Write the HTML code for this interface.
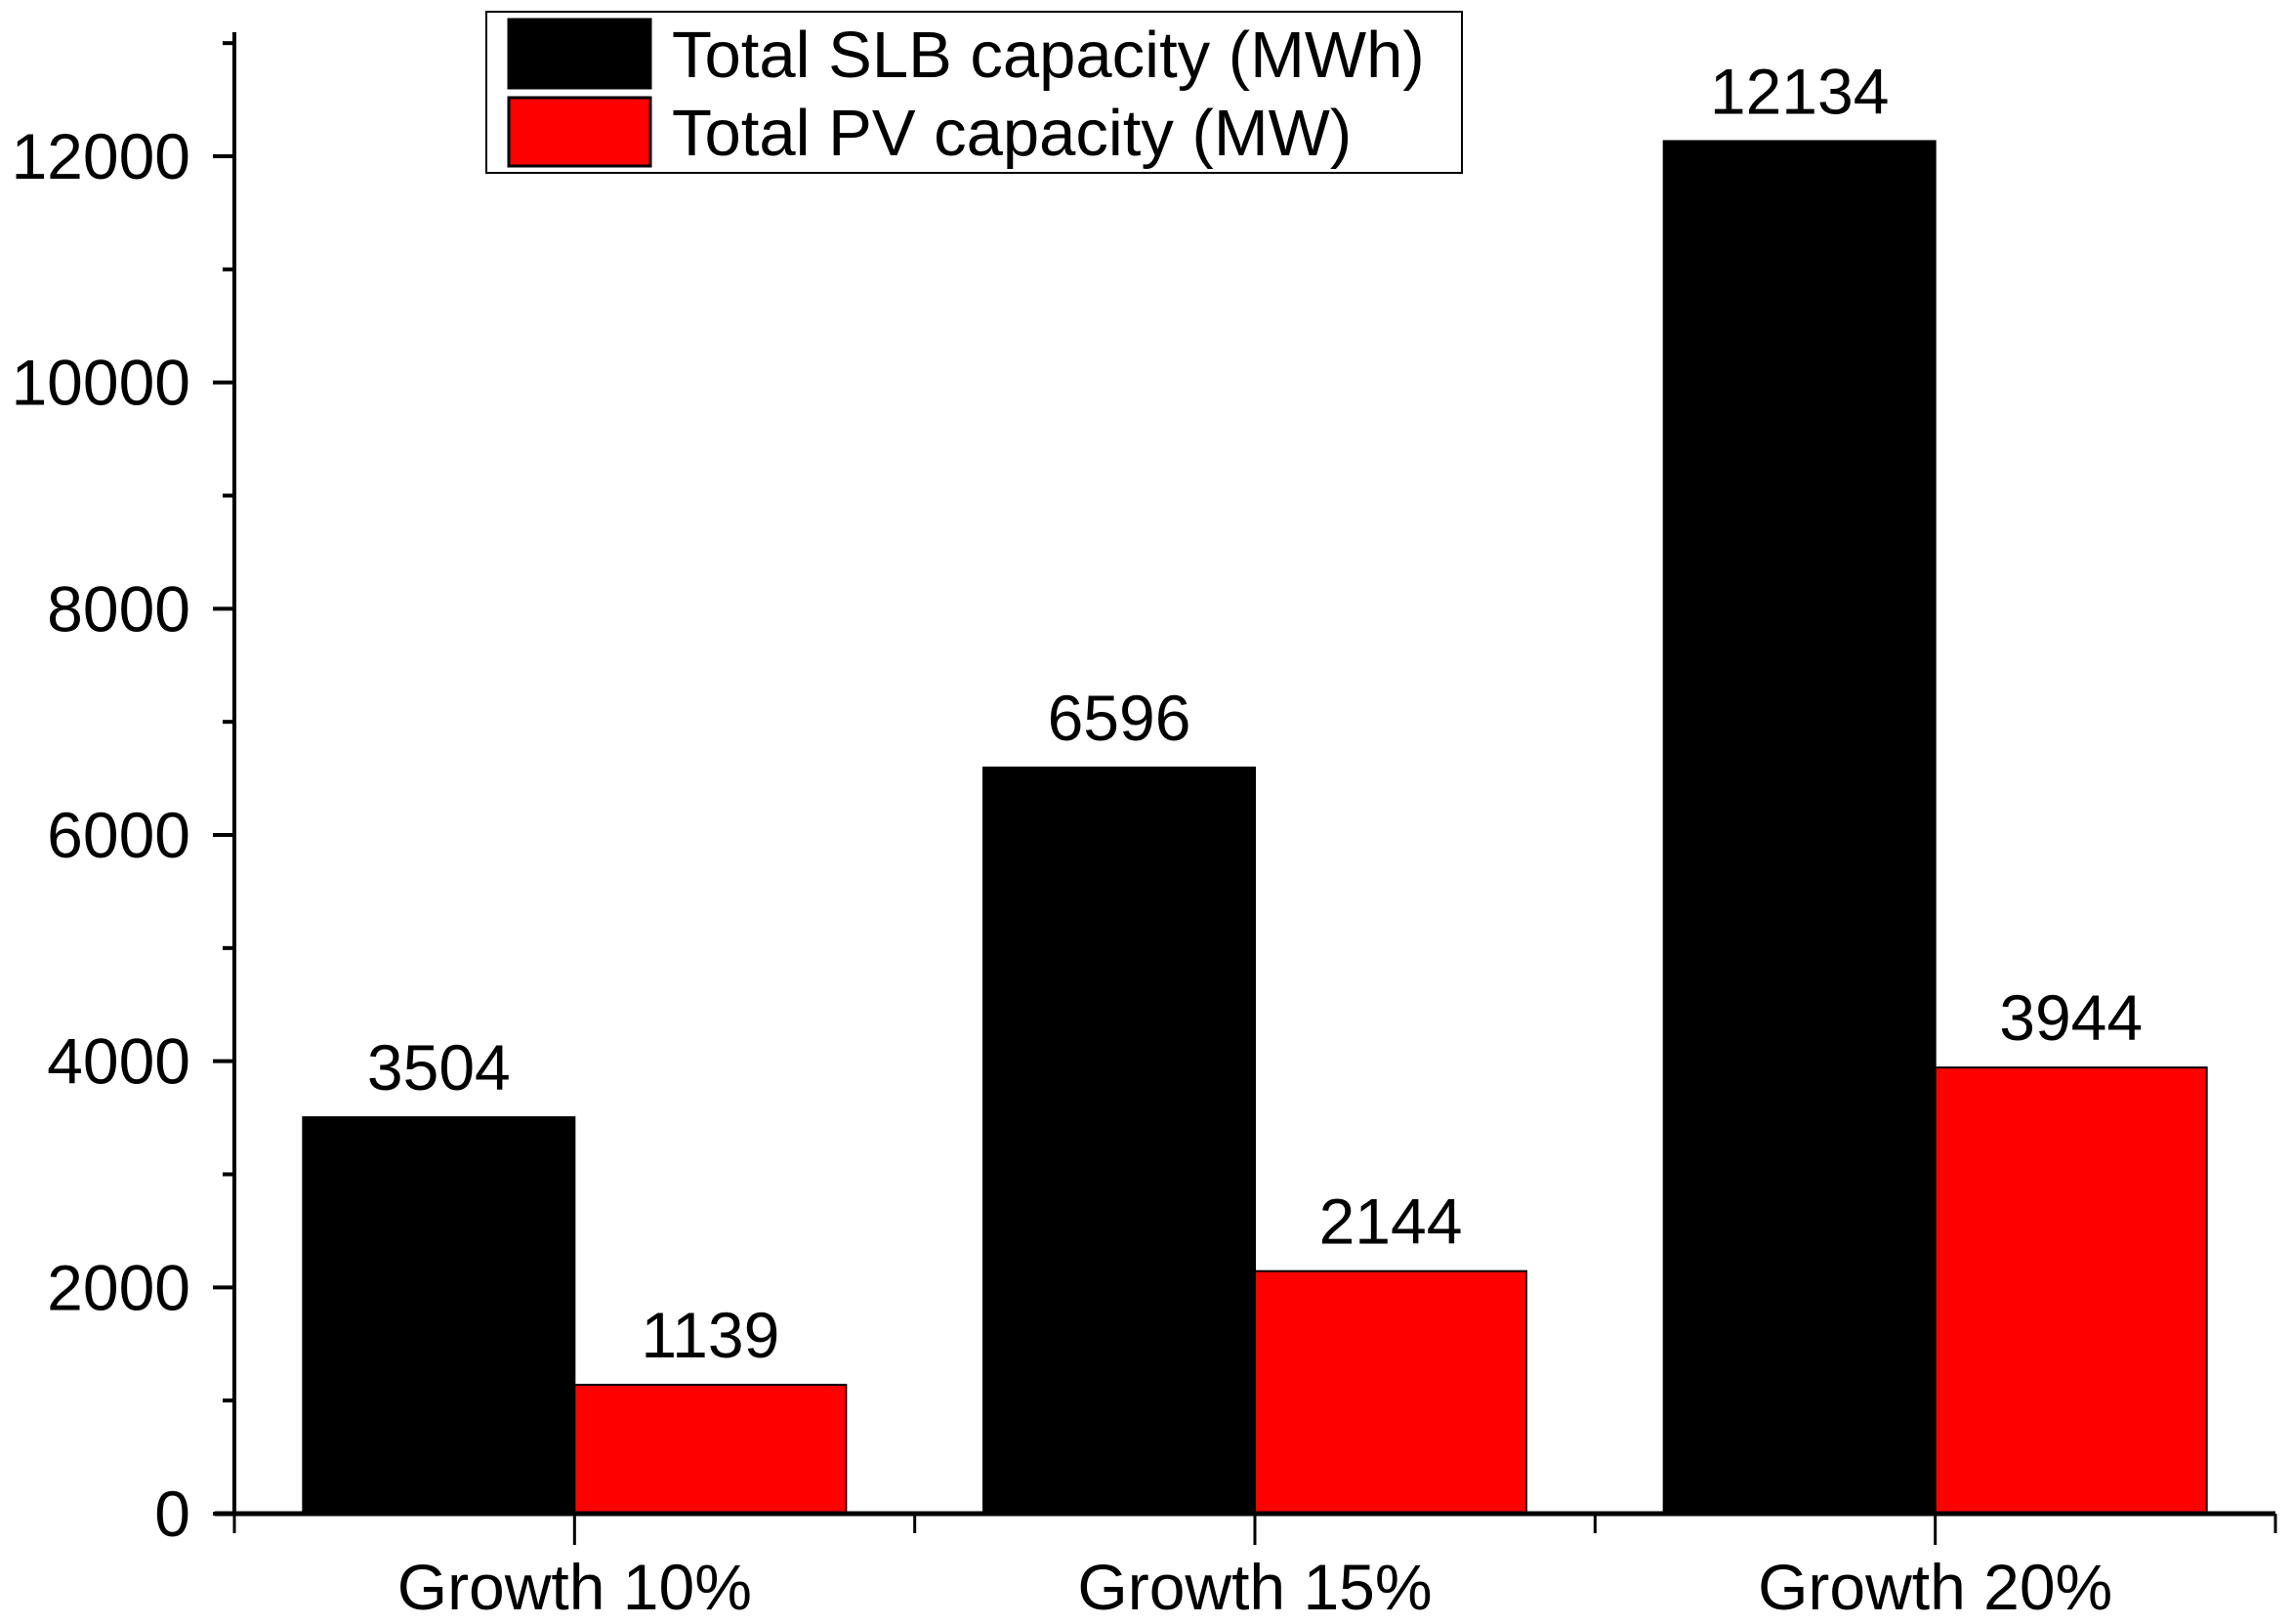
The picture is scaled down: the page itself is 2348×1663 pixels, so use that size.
<!DOCTYPE html>
<html><head><meta charset="utf-8"><style>
body{margin:0;background:#fff;}
svg{display:block;font-family:"Liberation Sans",Arial,sans-serif;}
</style></head><body>
<svg id="chart" width="2348" height="1663" viewBox="0 0 2348 1663"></svg>
<script>
const categories=["Growth 10%","Growth 15%","Growth 20%"];
const slbValues=[3504,6596,12134];
const pvValues=[1139,2144,3944];
const yTicks=[0,2000,4000,6000,8000,10000,12000];
const seriesNames=["Total SLB capacity (MWh)","Total PV capacity (MW)"];
const NS="http://www.w3.org/2000/svg";
const svg=document.getElementById('chart');
const X0=240,X1=2330,Y0=1550,YT=33;
const yScale=v=>Y0-v*(1550-160)/12000;
const xScale=i=>X0+(i+0.5)*(X1-X0)/categories.length;
const bw=278;
function el(tag,attrs,parent){const e=document.createElementNS(NS,tag);for(const k in attrs)e.setAttribute(k,attrs[k]);(parent||svg).appendChild(e);return e;}
categories.forEach((c,i)=>{
  const cx=xScale(i);
  const b1=el('rect',{x:cx-bw,y:yScale(slbValues[i]),width:bw,height:Y0-yScale(slbValues[i]),fill:'#000',stroke:'#000','stroke-width':2});
  
  
  const b2=el('rect',{x:cx,y:yScale(pvValues[i]),width:bw,height:Y0-yScale(pvValues[i]),fill:'#ff0000',stroke:'#000','stroke-width':2});
  
  
  const t1=el('text',{x:cx-bw/2,y:yScale(slbValues[i])-28,'font-size':66,'text-anchor':'middle'});
  t1.textContent=slbValues[i];
  
  
  const t2=el('text',{x:cx+bw/2,y:yScale(pvValues[i])-28,'font-size':66,'text-anchor':'middle'});
  t2.textContent=pvValues[i];
  
  
  const xl=el('text',{x:cx,y:1648,'font-size':66,'text-anchor':'middle'});
  xl.textContent=c;
  
  
});
const ya=el('line',{x1:X0,y1:YT,x2:X0,y2:Y0+2,stroke:'#000','stroke-width':4});


const xa=el('line',{x1:X0-20,y1:Y0,x2:X1,y2:Y0,stroke:'#000','stroke-width':5});


yTicks.forEach(v=>{
  el('line',{x1:X0-22,y1:yScale(v),x2:X0,y2:yScale(v),stroke:'#000','stroke-width':4});
  el('line',{x1:X0-12,y1:yScale(v+1000),x2:X0,y2:yScale(v+1000),stroke:'#000','stroke-width':4});
  const t=el('text',{x:195,y:yScale(v)+23,'font-size':66,'text-anchor':'end'});
  t.textContent=v;
  
  
});
for(let i=0;i<=categories.length*2;i++){
  const x=X0+i*(X1-X0)/(categories.length*2);
  el('line',{x1:x,y1:Y0,x2:x,y2:Y0+(i%2?32:20),stroke:'#000','stroke-width':3});
}
const lg=el('g',{});


el('rect',{x:498,y:12,width:999,height:165,fill:'#fff',stroke:'#000','stroke-width':2},lg);
const cols=['#000','#ff0000'];
seriesNames.forEach((n,i)=>{
  const sw=el('rect',{x:521,y:20+i*80,width:145,height:70,fill:cols[i],stroke:'#000','stroke-width':3},lg);
  
  
  const t=el('text',{x:688,y:79+i*80,'font-size':67},lg);
  t.textContent=n;
  
  
});
</script>
</body></html>
